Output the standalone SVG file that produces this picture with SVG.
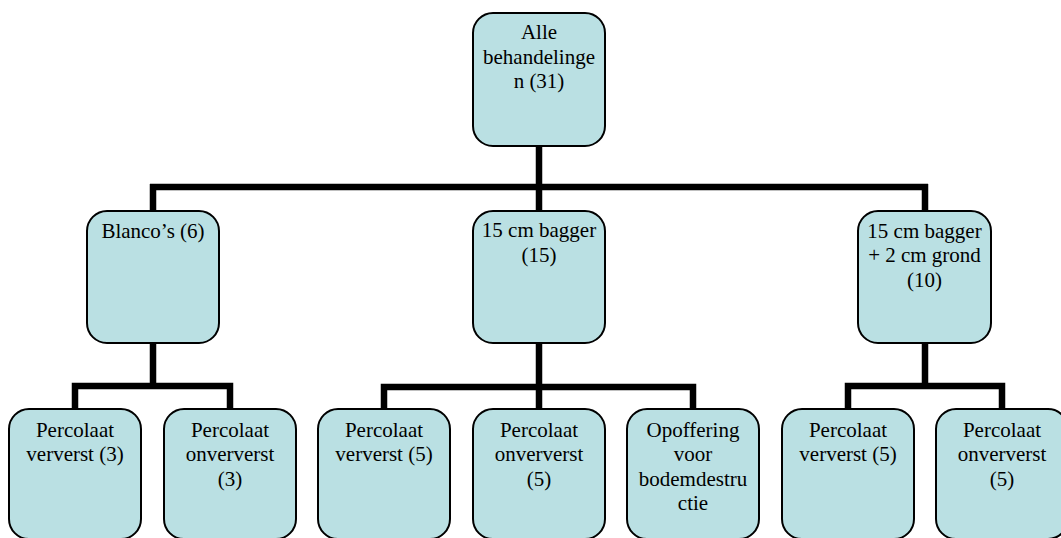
<svg xmlns="http://www.w3.org/2000/svg" width="1061" height="538" viewBox="0 0 1061 538">
<style>
.box{fill:#bae0e3;stroke:#000;stroke-width:2}
.t{font-family:"Liberation Serif","Times New Roman",serif;font-size:21px;fill:#000;text-anchor:middle}
.c{fill:none;stroke:#000;stroke-width:6.5;stroke-linejoin:miter;stroke-linecap:butt}
</style>
<rect width="1061" height="538" fill="#fff"/>
<g id="connectors">
<path class="c" d="M539,146 V187 M150,187 H928 M153,184 V211 M539,187 V211 M925,184 V211"/>
<path class="c" d="M153,343 V386 M75,409 V386 H230 V409"/>
<path class="c" d="M539,343 V409 M384,409 V387 H693 V409"/>
<path class="c" d="M925,343 V386 M848,409 V386 H1002 V409"/>
</g>
<g id="n0"><rect class="box" x="473" y="13" width="132" height="133" rx="20"/>
<text class="t" x="539" y="39">Alle</text><text class="t" x="539" y="64">behandelinge</text><text class="t" x="539" y="88">n (31)</text></g>
<g id="n1"><rect class="box" x="87" y="211" width="132" height="132" rx="20"/>
<text class="t" x="153" y="238">Blanco’s (6)</text></g>
<g id="n2"><rect class="box" x="473" y="211" width="132" height="132" rx="20"/>
<text class="t" x="539" y="237">15 cm bagger</text><text class="t" x="539" y="262">(15)</text></g>
<g id="n3"><rect class="box" x="858" y="211" width="133" height="132" rx="20"/>
<text class="t" x="924.5" y="238">15 cm bagger</text><text class="t" x="924.5" y="262">+ 2 cm grond</text><text class="t" x="924.5" y="287">(10)</text></g>
<g id="n4"><rect class="box" x="9" y="409" width="132" height="130" rx="20"/>
<text class="t" x="75" y="437">Percolaat</text><text class="t" x="75" y="461">ververst (3)</text></g>
<g id="n5"><rect class="box" x="164" y="409" width="132" height="130" rx="20"/>
<text class="t" x="230" y="437">Percolaat</text><text class="t" x="230" y="461">onververst</text><text class="t" x="230" y="486">(3)</text></g>
<g id="n6"><rect class="box" x="318" y="409" width="132" height="130" rx="20"/>
<text class="t" x="384" y="437">Percolaat</text><text class="t" x="384" y="461">ververst (5)</text></g>
<g id="n7"><rect class="box" x="473" y="409" width="132" height="130" rx="20"/>
<text class="t" x="539" y="437">Percolaat</text><text class="t" x="539" y="461">onververst</text><text class="t" x="539" y="486">(5)</text></g>
<g id="n8"><rect class="box" x="627" y="409" width="132" height="130" rx="20"/>
<text class="t" x="693" y="437">Opoffering</text><text class="t" x="693" y="461">voor</text><text class="t" x="693" y="486">bodemdestru</text><text class="t" x="693" y="510">ctie</text></g>
<g id="n9"><rect class="box" x="782" y="409" width="132" height="130" rx="20"/>
<text class="t" x="848" y="437">Percolaat</text><text class="t" x="848" y="461">ververst (5)</text></g>
<g id="n10"><rect class="box" x="936" y="409" width="132" height="130" rx="20"/>
<text class="t" x="1002" y="437">Percolaat</text><text class="t" x="1002" y="461">onververst</text><text class="t" x="1002" y="486">(5)</text></g>
</svg>
